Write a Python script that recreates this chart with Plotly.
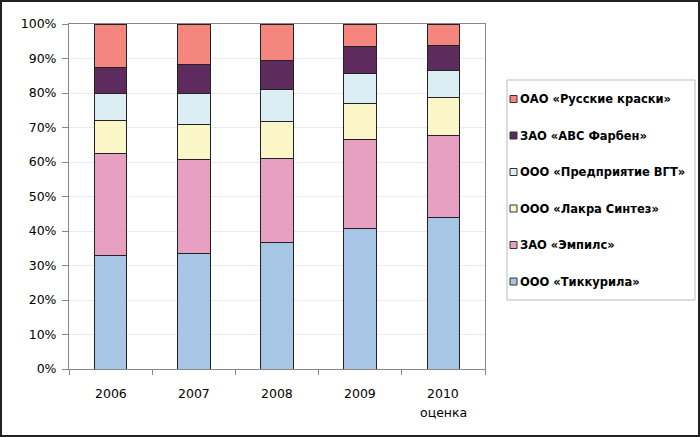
import plotly.graph_objects as go

years = ["2006", "2007", "2008", "2009", "2010"]
year_notes = ["", "", "", "", "оценка"]
series_names = [
    "ООО «Тиккурила»",
    "ЗАО «Эмпилс»",
    "ООО «Лакра Синтез»",
    "ООО «Предприятие ВГТ»",
    "ЗАО «АВС Фарбен»",
    "ОАО «Русские краски»",
]
tikkurila = [32.8, 33.5, 36.8, 40.7, 43.9]
empils = [29.6, 27.1, 24.3, 25.9, 23.9]
lakra = [9.6, 10.3, 10.6, 10.5, 10.9]
vgt = [7.8, 8.9, 9.3, 8.5, 7.7]
avs = [7.6, 8.5, 8.5, 7.8, 7.3]
russkie = [12.6, 11.7, 10.5, 6.6, 6.3]
series_values = [tikkurila, empils, lakra, vgt, avs, russkie]
colors = ["#A7C6E5", "#E8A0C2", "#FBF6C8", "#DAEEF3", "#5E2B5E", "#F4867F"]

FONT = "DejaVu Sans, Liberation Sans, Arial, sans-serif"

fig = go.Figure()
for i, (name, vals) in enumerate(zip(series_names, series_values)):
    fig.add_trace(go.Bar(
        x=years, y=vals, name=name, showlegend=False,
        marker=dict(color=colors[i], line=dict(color="#222222", width=1)),
        width=0.39,
    ))

W, H = 700, 437
L, R, T, B = 69, 215, 24, 68
pw, ph = W - L - R, H - T - B


def px(xp):
    return (xp - L) / pw


def py(yp):
    return (H - B - yp) / ph


shapes = [
    # outer frame of the picture
    dict(type="rect", xref="paper", yref="paper",
         x0=px(1), x1=px(W - 1), y0=py(H - 1), y1=py(1),
         line=dict(color="#222222", width=2), fillcolor="rgba(0,0,0,0)"),
    # legend box
    dict(type="rect", xref="paper", yref="paper",
         x0=px(507), x1=px(695), y0=py(300), y1=py(80),
         line=dict(color="#BBBBBB", width=1), fillcolor="white"),
]
annotations = []
row_y0, row_step = 99, 36.5
for k, i in enumerate(reversed(range(len(series_names)))):
    yc = row_y0 + k * row_step
    shapes.append(dict(type="rect", xref="paper", yref="paper",
                       x0=px(510), x1=px(517), y0=py(yc + 3.5), y1=py(yc - 3.5),
                       line=dict(color="#333333", width=1), fillcolor=colors[i]))
    annotations.append(dict(xref="paper", yref="paper", x=px(518), y=py(yc),
                            xanchor="left", yanchor="middle", showarrow=False,
                            text="<b>" + series_names[i] + "</b>",
                            font=dict(family=FONT, size=11.5, color="#000")))

# category labels under the axis (two-line label for the estimate year)
n = len(years)
for idx, (yr, note) in enumerate(zip(years, year_notes)):
    xc = (idx + 0.5) / n
    annotations.append(dict(xref="paper", yref="paper", x=xc, y=py(393),
                            xanchor="center", yanchor="middle", showarrow=False,
                            text=yr, font=dict(family=FONT, size=12.5, color="#000")))
    if note:
        annotations.append(dict(xref="paper", yref="paper", x=xc, y=py(412),
                                xanchor="center", yanchor="middle", showarrow=False,
                                text=note, font=dict(family=FONT, size=12.5, color="#000")))

fig.update_layout(
    width=W, height=H,
    margin=dict(l=L, r=R, t=T, b=B, autoexpand=False),
    barmode="stack", barnorm="percent",
    plot_bgcolor="white", paper_bgcolor="white",
    font=dict(family=FONT, size=12.5, color="#000"),
    showlegend=False,
    xaxis=dict(
        type="category",
        showline=True, linecolor="#888888", mirror=True,
        ticks="outside", tickson="boundaries", ticklen=5, tickcolor="#888888",
        showticklabels=False,
    ),
    yaxis=dict(
        range=[0, 100], dtick=10, ticksuffix="%",
        showline=True, linecolor="#888888", mirror=True,
        ticks="outside", ticklen=6, tickcolor="#888888",
        showgrid=True, gridcolor="#EBEBEB",
        tickfont=dict(size=12.5), ticklabelstandoff=3,
    ),
    shapes=shapes,
    annotations=annotations,
)

fig.write_html(
    "out.html",
    config={"displayModeBar": False},
    post_script="document.body.style.margin='0';document.body.style.overflow='hidden';",
)
